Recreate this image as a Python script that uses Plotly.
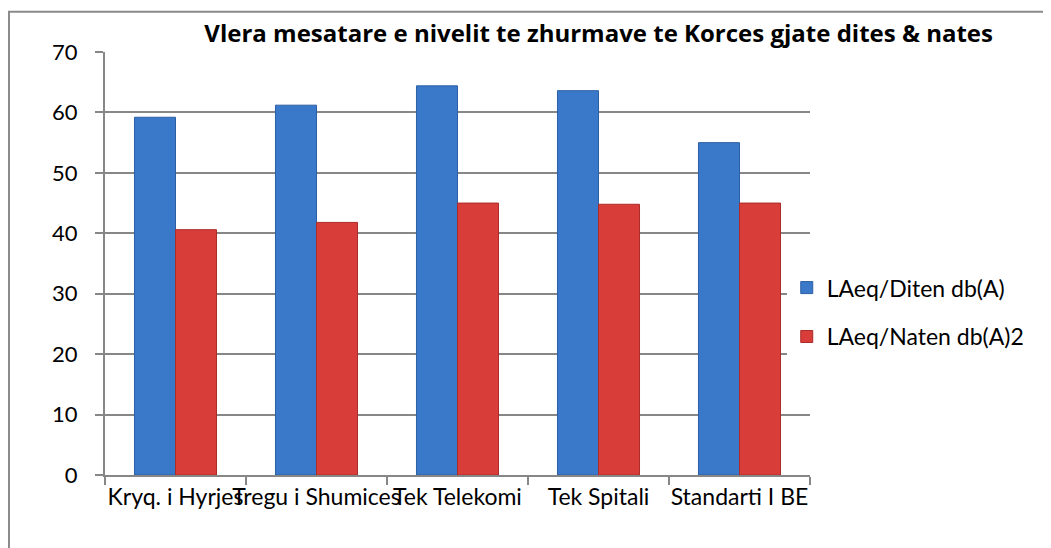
import plotly.graph_objects as go

# data
locations = ['Kryq. i Hyrjes', 'Tregu i Shumices', 'Tek Telekomi', 'Tek Spitali', 'Standarti I BE']
day_values = [59.2, 61.2, 64.4, 63.6, 55.0]
night_values = [40.6, 41.8, 45.0, 44.8, 45.0]
y_ticks = [0, 10, 20, 30, 40, 50, 60, 70]

fig = go.Figure()

fig.add_trace(go.Bar(x=locations, y=day_values, name='LAeq/Diten db(A)', legendgroup='day',
                     marker=dict(color='#3a79c9', line=dict(color='#2c5fa3', width=1))))
fig.add_trace(go.Bar(x=locations, y=night_values, name='LAeq/Naten db(A)2', legendgroup='night',
                     marker=dict(color='#d83d39', line=dict(color='#ab2d2a', width=1))))

fig.update_layout(
    width=1051, height=548,
    margin=dict(l=97, r=249, t=44, b=81),
    paper_bgcolor='white',
    plot_bgcolor='white',
    font=dict(family='Lato', size=22, color='black'),
    barmode='group',
    bargap=0.418,
    bargroupgap=0,
    title=dict(text='<b>Vlera mesatare e nivelit te zhurmave te Korces gjate dites & nates</b>',
               x=0.562, xanchor='center', y=0.9526, yanchor='middle',
               font=dict(family='Open Sans', size=24, color='black')),
    legend=dict(x=0.967, xanchor='left', y=0.385, yanchor='middle',
                font=dict(size=23), tracegroupgap=16, itemwidth=30),
    showlegend=True,
)

fig.update_xaxes(type='category', tickangle=0, showline=True, linecolor='#878787', linewidth=2,
                 ticks='outside', tickson='boundaries', ticklen=8, tickcolor='#878787', tickwidth=2,
                 showgrid=False, tickfont=dict(size=23))
fig.update_yaxes(range=[0, 70], tickvals=y_ticks, showline=True, linecolor='#878787', linewidth=2,
                 ticks='outside', ticklen=8, tickcolor='#878787', tickwidth=2, ticklabelstandoff=13,
                 showgrid=True, gridcolor='#878787', gridwidth=2, zeroline=False,
                 tickfont=dict(size=22))

# outer chart border (right and bottom sides fall outside the visible window)
fig.add_shape(type='rect', xref='paper', yref='paper',
              x0=-0.1362, x1=1.352, y0=-0.189, y1=1.095,
              line=dict(color='#8a8a8a', width=2), layer='above')

fig.write_html('out.html')
